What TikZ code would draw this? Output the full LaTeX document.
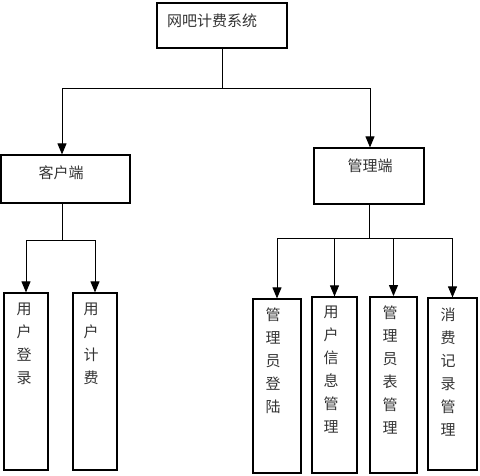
\documentclass[tikz,border=0pt]{standalone}
\usepackage{fontspec}
\newfontfamily\cjk{Noto Sans CJK SC}
\usepackage{tikz}
\usetikzlibrary{arrows.meta}
\usetikzlibrary{positioning}

\def\lw{0.9pt}
\def\lwblk{1.2pt}

\tikzset{
box/.style = {draw=black, line width=\lwblk, rectangle, inner sep=0pt},
lbl/.style = {font=\cjk\fontsize{15}{23}\selectfont, text=black!80, inner sep=0pt},
vlbl/.style = {lbl, align=center, anchor=north},
arr/.style = {-{Triangle[length=11pt,width=9pt]}, line width=\lw}
}

\begin{document}
\begin{tikzpicture}[x=1pt,y=-1pt]

\useasboundingbox (0,0) rectangle (480,475);

% top level
\node[box, minimum width=130pt, minimum height=45pt] (sys) at (222,25.5) {};
\node[lbl, anchor=west] (systxt) at (167,21) {网吧计费系统};

% second level
\node[box, minimum width=129pt, minimum height=48pt] (cli) at (65.5,179) {};
\node[lbl] (clitxt) at (61,173) {客户端};
\node[box, minimum width=110pt, minimum height=56pt] (mgr) at (369,176) {};
\node[lbl] (mgrtxt) at (370,166) {管理端};

% client leaves
\node[box, minimum width=44pt, minimum height=177pt] (u1) at (26,381.5) {};
\node[box, minimum width=44pt, minimum height=177pt] (u2) at (95,381.5) {};
\node[vlbl] (u1txt) at (24,303) {用\\户\\登\\录};
\node[vlbl] (u2txt) at (91,303) {用\\户\\计\\费};

% manager leaves
\node[box, minimum width=48pt, minimum height=174pt] (m1) at (277,386) {};
\node[box, minimum width=45pt, minimum height=176pt] (m2) at (334.5,385) {};
\node[box, line width=1.8pt, minimum width=47pt, minimum height=176pt] (m3) at (393.5,385) {};
\node[box, minimum width=49pt, minimum height=172pt] (m4) at (452.5,384) {};
\node[vlbl] (m1txt) at (273,308) {管\\理\\员\\登\\陆};
\node[vlbl] (m2txt) at (331,306) {用\\户\\信\\息\\管\\理};
\node[vlbl] (m3txt) at (390,306) {管\\理\\员\\表\\管\\理};
\node[vlbl] (m4txt) at (448,308) {消\\费\\记\\录\\管\\理};

% connectors
\draw[line width=\lw] (sys.south) -- ++(0,40) coordinate (tbus);
\draw[arr] (tbus) -| ([xshift=-3.5pt]cli.north);
\draw[arr] (tbus) -| ([xshift=1pt]mgr.north);

\draw[line width=\lw] ([xshift=-3.5pt]cli.south) -- ++(0,37) coordinate (cbus);
\draw[arr] (cbus) -| (u1);
\draw[arr] (cbus) -| (u2);

\draw[line width=\lw] (mgr.south) -- ++(0,34) coordinate (mbus);
\foreach \n in {m1,m2,m3,m4}
	\draw[arr] (mbus) -| (\n);

\end{tikzpicture}
\end{document}
